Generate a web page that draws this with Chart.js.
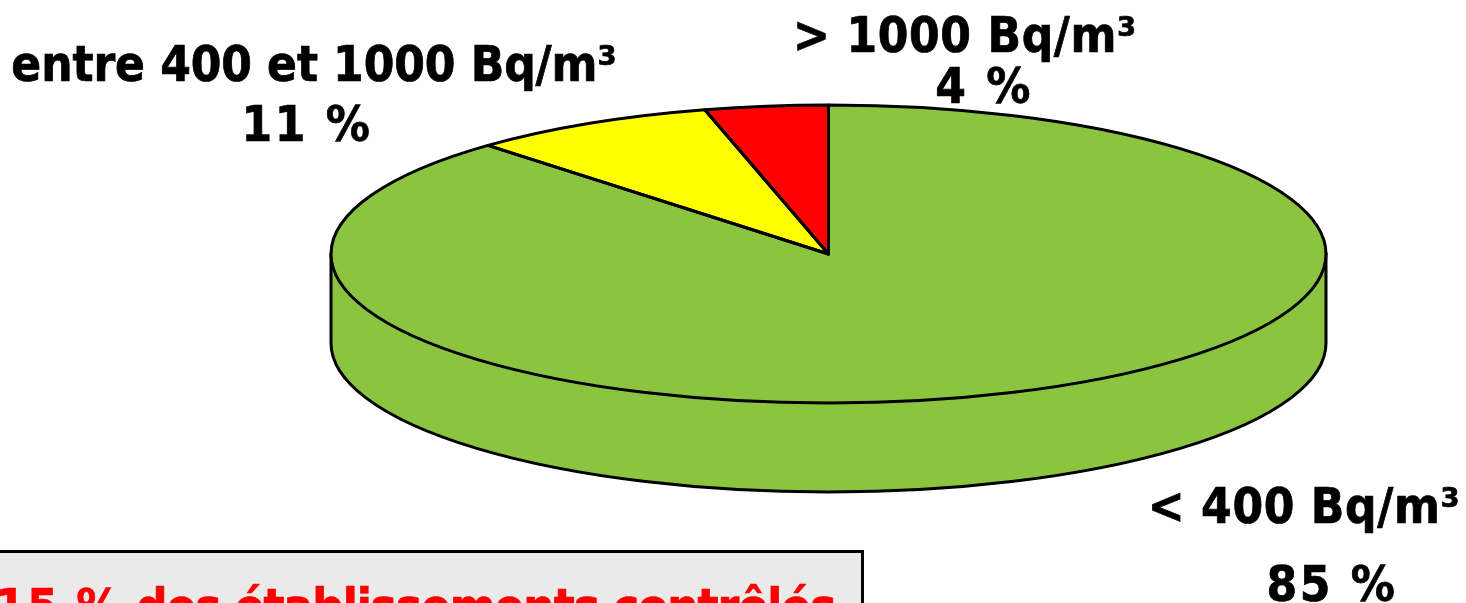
<!DOCTYPE html>
<html lang="fr">
<head>
<meta charset="utf-8">
<title>Radon</title>
<script src="https://cdn.jsdelivr.net/npm/chart.js@4/dist/chart.umd.min.js"></script>
<style>
  html, body { margin: 0; padding: 0; background: #fff; }
  #wrap { position: relative; width: 1466px; height: 603px; overflow: hidden; }
  #pie { position: absolute; left: 0; top: 0; }
  .lbl {
    position: absolute;
    font: bold 49px "DejaVu Sans Condensed", "DejaVu Sans", sans-serif;
    font-stretch: condensed;
    -webkit-text-stroke: 0.7px currentColor;
    line-height: 1;
    white-space: nowrap;
    color: #000;
    transform: translateX(-50%);
  }
  #note {
    position: absolute; left: -20px; top: 549.5px; width: 878px; height: 120px;
    background: #eaeaea; border: 3px solid #000;
  }
</style>
</head>
<body>
<div id="wrap">
  <canvas id="pie" width="1466" height="603"></canvas>
  <div id="note"></div>
</div>
<script>
// clockwise from 12 o'clock. shares are measured from the drawn wedges, the
// source picture draws yellow narrower than its printed 11 %
const categories = ['< 400 Bq/m³', 'entre 400 et 1000 Bq/m³', '> 1000 Bq/m³'];
const drawnShares = [88, 8, 4];
const printedPercents = ['85 %', '11 %', '4 %'];
const sliceColors = ['#8bc43f', '#ffff00', '#ff0000'];

// x centre and baseline for name line / percent line of each category
const nameX = [1304, 314, 965];
const nameY = [523, 81, 52];
const percentX = [1332, 307, 984];
const percentY = [601, 141, 103];
const noteLead = '15 %';
const noteRest = ' des établissements contrôlés';

const wrap = document.getElementById('wrap');
function addLabel(text, x, baseline, spacing) {
  const d = document.createElement('div');
  d.className = 'lbl';
  d.textContent = text;
  d.style.left = x + 'px';
  d.style.top = (baseline - 41) + 'px';
  d.style.letterSpacing = spacing + 'px';
  wrap.appendChild(d);
  return d;
}
categories.forEach((c, i) => {
  addLabel(c, nameX[i], nameY[i], i === 1 ? -0.1 : 0.6);
  addLabel(printedPercents[i], percentX[i], percentY[i], 2.5);
});

const note = addLabel(noteRest, -5, 624, -1.1);
note.style.color = '#f00';
note.style.transform = 'none';
note.style.whiteSpace = 'pre';
const lead = document.createElement('span');
lead.textContent = noteLead;
lead.style.letterSpacing = '1.5px';
note.prepend(lead);

const CX = 828.5, CY = 254, RX = 497.5, RY = 149, DEPTH = 89;
const LINE = 3;

// chart.js only does round pies, so squash it and add the side wall by hand
const flatPie = {
  id: 'flatPie',
  beforeDatasetsDraw(chart) {
    const ctx = chart.ctx;
    const arc = chart.getDatasetMeta(0).data[0];
    ctx.save();
    ctx.beginPath();
    ctx.ellipse(CX, CY + DEPTH, RX, RY, 0, 0, Math.PI);
    ctx.lineTo(CX - RX, CY);
    ctx.lineTo(CX + RX, CY);
    ctx.closePath();
    ctx.fillStyle = sliceColors[0];
    ctx.strokeStyle = '#000';
    ctx.lineWidth = LINE;
    ctx.fill();
    ctx.stroke();
    ctx.restore();

    ctx.save();
    ctx.translate(CX, CY);
    ctx.scale(1, RY / RX);
    ctx.translate(-arc.x, -arc.y);
  },
  afterDatasetsDraw(chart) {
    const ctx = chart.ctx;
    ctx.restore();
    // outlines done here so the line width doesn't get squashed too
    ctx.save();
    ctx.strokeStyle = '#000';
    ctx.lineWidth = LINE;
    ctx.lineJoin = 'round';
    chart.getDatasetMeta(0).data.forEach(arc => {
      ctx.beginPath();
      ctx.moveTo(CX, CY);
      ctx.ellipse(CX, CY, RX, RY, 0, arc.startAngle, arc.endAngle);
      ctx.closePath();
      ctx.stroke();
    });
    ctx.restore();
  }
};

new Chart(document.getElementById('pie'), {
  type: 'pie',
  data: {
    labels: categories,
    datasets: [{
      data: drawnShares,
      backgroundColor: sliceColors,
      borderWidth: 0,
      radius: RX,
      clip: false
    }]
  },
  options: {
    responsive: false,
    animation: false,
    events: [],
    plugins: { legend: { display: false }, tooltip: { enabled: false } }
  },
  plugins: [flatPie]
});
</script>
</body>
</html>
